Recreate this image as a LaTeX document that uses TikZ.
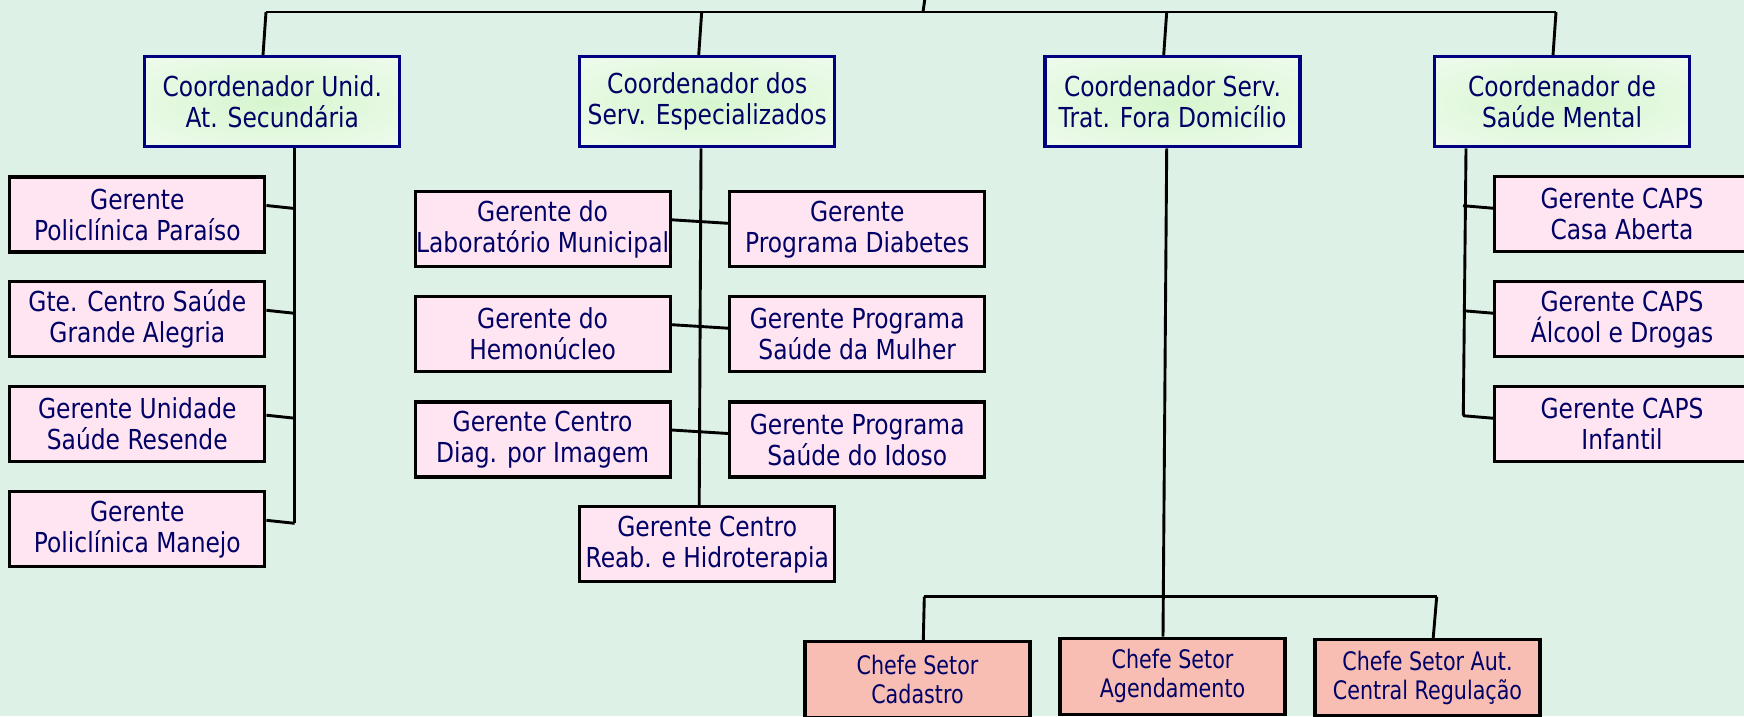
\documentclass[tikz,border=0pt]{standalone}
\usepackage{fontspec}
\setmainfont{DejaVu Sans}[FakeStretch=0.85]
\newfontfamily\chefefont{DejaVu Sans}[FakeStretch=0.81]
\usepackage{tikz}
\usetikzlibrary{calc}
\definecolor{bgmint}{RGB}{221,241,230}
\definecolor{navytext}{RGB}{0,0,102}
\definecolor{navyline}{RGB}{0,0,128}
\definecolor{coordfill}{RGB}{245,252,245}
\definecolor{coordglow}{RGB}{214,246,206}
\definecolor{gerfill}{RGB}{255,229,241}
\definecolor{chefill}{RGB}{248,190,180}
\tikzset{coord/.style={rectangle, draw=navyline, line width=3.2pt, fill=coordfill, minimum width=255pt, minimum height=90pt, inner sep=2pt, align=center, text=navytext, font=\fontsize{27.5}{31}\selectfont,
  path picture={\shade[inner color=coordglow, outer color=coordfill] (path picture bounding box.center) ellipse [x radius=240pt, y radius=75pt];}}}
\tikzset{gerente/.style={rectangle, draw=black, line width=3.2pt, fill=gerfill, minimum width=255pt, minimum height=75pt, inner sep=0pt, align=center, text=navytext, font=\fontsize{27.5}{31}\selectfont}}
\tikzset{chefe/.style={rectangle, draw=black, line width=3.2pt, fill=chefill, minimum width=225pt, minimum height=76pt, inner sep=0pt, align=center, text=navytext, font=\chefefont\fontsize{25.5}{29}\selectfont}}
\tikzset{link/.style={black, line width=2.9pt}}

\begin{document}
\begin{tikzpicture}[x=1pt,y=-1pt]
  \path[use as bounding box, fill=bgmint] (0,0) rectangle (1744,716);
  % coordinators
  \foreach \x/\lab/\txt in {
    272.3/ua/{Coordenador Unid.\\At. Secundária},
    707.2/se/{Coordenador dos\\Serv. Especializados},
    1172.5/tfd/{Coordenador Serv.\\Trat. Fora Domicílio},
    1562/sm/{Coordenador de\\Saúde Mental}%
  } {
    \node[coord] (\lab) at (\x, 101.7) {\txt};
  }
  % gerentes, left column
  \foreach \y/\lab/\txt in {
    214.5/par/{Gerente\\Policlínica Paraíso},
    319.3/gal/{Gte. Centro Saúde\\Grande Alegria},
    424.2/res/{Gerente Unidade\\Saúde Resende},
    529.3/man/{Gerente\\Policlínica Manejo}%
  } {
    \node[gerente] (\lab) at (137.3, \y) {\txt};
  }
  % gerentes, specialised services
  \foreach \y/\la/\ta/\lb/\tb in {
    229.3/lab/{Gerente do\\Laboratório Municipal}/dia/{Gerente\\Programa Diabetes},
    334.2/hem/{Gerente do\\Hemonúcleo}/mul/{Gerente Programa\\Saúde da Mulher},
    439.5/img/{Gerente Centro\\Diag. por Imagem}/ido/{Gerente Programa\\Saúde do Idoso}%
  } {
    \node[gerente] (\la) at (542.6, \y) {\ta};
    \node[gerente] (\lb) at (857.2, \y) {\tb};
  }
  \node[gerente] (rea) at (707.2, 544.3) {Gerente Centro\\Reab. e Hidroterapia};
  % gerentes CAPS
  \foreach \y/\lab/\txt in {
    214.2/cas/{Gerente CAPS\\Casa Aberta},
    319.2/alc/{Gerente CAPS\\Álcool e Drogas},
    424.2/inf/{Gerente CAPS\\Infantil}%
  } {
    \node[gerente] (\lab) at (1622, \y) {\txt};
  }
  % chefes
  \foreach \x/\y/\lab/\txt in {
    917.5/679.5/cad/{Chefe Setor\\Cadastro},
    1172.5/676.2/age/{Chefe Setor\\Agendamento},
    1427.5/677.5/aut/{Chefe Setor Aut.\\Central Regulação}%
  } {
    \node[chefe] (\lab) at (\x, \y) {\txt};
  }

  % top bus
  \coordinate (root) at (925,-2);
  \foreach \lab/\x in {ua/266, se/701.7, tfd/1166.7, sm/1556} {
    \coordinate (bus-\lab) at (\x, 12);
  }
  \draw[link] (root) -- ([xshift=-2pt]root |- bus-ua);
  \draw[link] (bus-ua) -- (bus-sm);
  \foreach \lab in {ua, se, tfd, sm} {
    \draw[link] (bus-\lab) -- ([xshift=-3pt]bus-\lab |- \lab.north);
  }

  % spines
  \coordinate (ua-top) at ([xshift=22.4pt]ua.south);
  \coordinate (se-top) at ([xshift=-6.2pt]se.south);
  \coordinate (tfd-top) at ([xshift=-5.8pt]tfd.south);
  \coordinate (sm-top) at ([xshift=-96pt]sm.south);
  \draw[link] (ua-top) -- ([yshift=6pt]man.east -| ua-top);
  \draw[link] (se-top) -- ([xshift=-8pt]rea.north);
  \draw[link] (tfd-top) -- ([xshift=-9.5pt]age.north);
  \draw[link] (sm-top) -- ([xshift=-2.7pt, yshift=8.5pt]inf.west -| sm-top);

  % branches
  \foreach \lab in {par, gal, res, man} {
    \draw[link] ([yshift=9pt]\lab.east) -- ([yshift=6pt]\lab.east -| ua-top);
  }
  \foreach \u/\v in {lab/dia, hem/mul, img/ido} {
    \draw[link] ([yshift=9.5pt]\u.east) -- ([yshift=6pt]\v.west);
  }
  \foreach \lab in {cas, alc, inf} {
    \draw[link] ([xshift=-3pt, yshift=8.5pt]\lab.west -| sm-top) -- ([yshift=6pt]\lab.west);
  }

  % chefes bus
  \coordinate (low-cad) at (924.3, 596.7);
  \coordinate (low-aut) at (1436.7, 596.7);
  \draw[link] (low-cad) -- (low-aut);
  \draw[link] (low-cad) -- ([xshift=5.8pt]cad.north);
  \draw[link] (low-aut) -- ([xshift=5.7pt]aut.north);
\end{tikzpicture}
\end{document}
